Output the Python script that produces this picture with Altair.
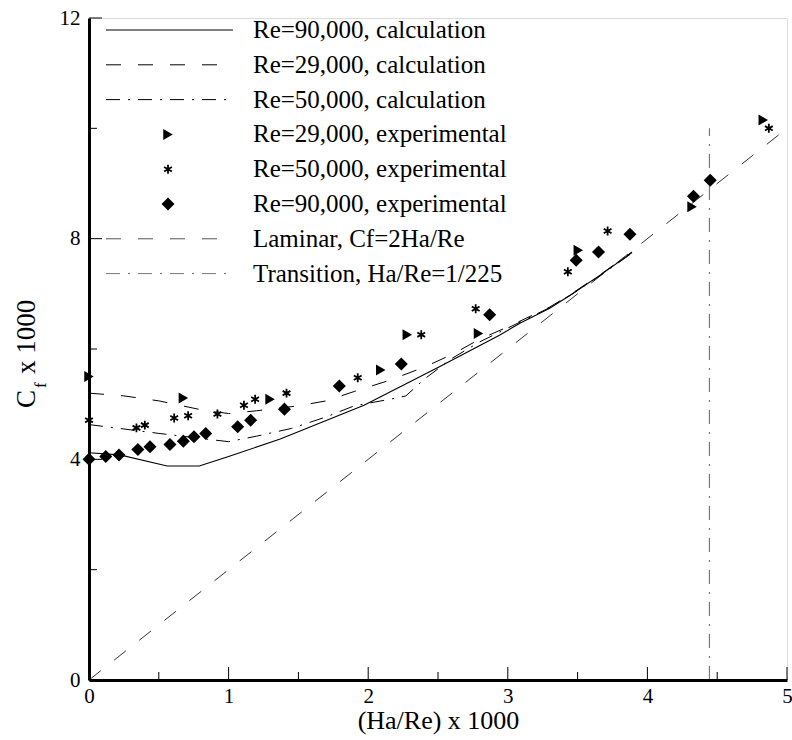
import altair as alt
import pandas as pd

FONT = "Liberation Serif"
W, H = 698, 662

# ---------------- data ----------------
calc90_x = [0.0, 0.22, 0.56, 0.79, 1.0, 1.37, 1.97, 2.51, 2.94, 3.09, 3.30, 3.45, 3.68, 3.89]
calc90_y = [4.12, 4.08, 3.88, 3.88, 4.05, 4.37, 4.98, 5.68, 6.25, 6.47, 6.74, 6.98, 7.37, 7.75]

calc29_x = [0.0, 0.25, 0.5, 0.8, 1.0, 1.2, 1.5, 1.7, 1.9, 2.15, 2.4, 2.6, 2.8, 3.0, 3.3, 3.45, 3.68, 3.89]
calc29_y = [5.20, 5.15, 5.06, 4.90, 4.83, 4.88, 4.97, 5.06, 5.23, 5.43, 5.67, 5.90, 6.18, 6.40, 6.76, 6.99, 7.38, 7.76]

calc50_x = [0.0, 0.5, 0.8, 1.0, 1.2, 1.45, 1.7, 1.9, 2.2, 2.27, 2.4, 2.6, 2.8, 3.0, 3.3, 3.45, 3.68, 3.89]
calc50_y = [4.63, 4.47, 4.38, 4.32, 4.42, 4.56, 4.77, 4.97, 5.11, 5.15, 5.45, 5.83, 6.13, 6.38, 6.75, 6.98, 7.36, 7.74]

exp29_x = [0.0, 0.676, 1.297, 2.09, 2.28, 2.79, 3.505, 4.32, 4.83]
exp29_y = [5.50, 5.11, 5.09, 5.62, 6.26, 6.28, 7.79, 8.58, 10.15]

exp50_x = [0.0, 0.34, 0.40, 0.61, 0.71, 0.92, 1.11, 1.19, 1.415, 1.925, 2.38, 2.77, 3.43, 3.715, 4.87]
exp50_y = [4.71, 4.57, 4.62, 4.75, 4.79, 4.82, 4.98, 5.09, 5.20, 5.48, 6.26, 6.73, 7.40, 8.14, 10.0]

exp90_x = [0.0, 0.12, 0.215, 0.35, 0.437, 0.58, 0.676, 0.752, 0.836, 1.065, 1.158, 1.40, 1.793,
           2.237, 2.87, 3.49, 3.65, 3.875, 4.33, 4.45]
exp90_y = [4.00, 4.05, 4.08, 4.18, 4.23, 4.27, 4.33, 4.41, 4.47, 4.59, 4.71, 4.91, 5.33,
           5.73, 6.62, 7.61, 7.76, 8.08, 8.77, 9.06]

laminar_x = [0.0, 5.0]
laminar_y = [0.0, 10.0]

transition_x = [1000 / 225, 1000 / 225]
transition_y = [0.0, 10.0]

x_major = [0, 1, 2, 3, 4, 5]
x_minor = [0.5, 1.5, 2.5, 3.5, 4.5]
y_major = [0, 4, 8, 12]
y_minor = [2, 6, 10]

legend_labels = [
    "Re=90,000, calculation",
    "Re=29,000, calculation",
    "Re=50,000, calculation",
    "Re=29,000, experimental",
    "Re=50,000, experimental",
    "Re=90,000, experimental",
    "Laminar, Cf=2Ha/Re",
    "Transition, Ha/Re=1/225",
]

# ---------------- styles ----------------
DASH = [15, 17]
DASHDOT = [14, 8, 2, 8]
ASTERISK = "M0,-1L0,1M-0.87,-0.5L0.87,0.5M-0.87,0.5L0.87,-0.5"
DIAMOND_SIZE = 170
TRI_SIZE = 120
STAR_SIZE = 80

xscale = alt.Scale(domain=[0, 5], nice=False, zero=False)
yscale = alt.Scale(domain=[0, 12], nice=False, zero=False)

xaxis = alt.Axis(values=x_major, ticks=False, grid=False, domainWidth=3, domainColor="black",
                 labelFont=FONT, labelFontSize=21, labelColor="black", labelPadding=5,
                 labelFlush=False, format="d", title="(Ha/Re) x 1000", titleFont=FONT,
                 titleFontSize=26, titleFontWeight="normal", titleColor="black",
                 titlePadding=1, zindex=1)
yaxis = alt.Axis(values=y_major, ticks=False, grid=False, domainWidth=3, domainColor="black",
                 labelFont=FONT, labelFontSize=21, labelColor="black", labelPadding=9,
                 labelFlush=False, format="d", title="", zindex=1)


def df(xs, ys):
    return pd.DataFrame({"x": xs, "y": ys})


def enc(chart, order=False):
    kw = dict(x=alt.X("x:Q", scale=xscale, axis=xaxis), y=alt.Y("y:Q", scale=yscale, axis=yaxis))
    if order:
        kw["order"] = alt.Order("i:Q")
    return chart.encode(**kw)


def line_df(xs, ys):
    d = df(xs, ys)
    d["i"] = range(len(d))
    return d


layers = []

# curves
layers.append(enc(alt.Chart(line_df(laminar_x, laminar_y)).mark_line(
    color="#333333", strokeWidth=1, strokeDash=DASH), order=True))
layers.append(enc(alt.Chart(line_df(transition_x, transition_y)).mark_line(
    color="#777777", strokeWidth=1.2, strokeDash=DASHDOT), order=True))
layers.append(enc(alt.Chart(line_df(calc90_x, calc90_y)).mark_line(
    color="black", strokeWidth=1.1), order=True))
layers.append(enc(alt.Chart(line_df(calc29_x, calc29_y)).mark_line(
    color="black", strokeWidth=1, strokeDash=DASH), order=True))
layers.append(enc(alt.Chart(line_df(calc50_x, calc50_y)).mark_line(
    color="black", strokeWidth=1, strokeDash=DASHDOT), order=True))

# experimental points
layers.append(enc(alt.Chart(df(exp29_x, exp29_y)).mark_point(
    shape="triangle-right", filled=True, color="black", opacity=1, size=TRI_SIZE)))
layers.append(enc(alt.Chart(df(exp50_x, exp50_y)).mark_point(
    shape=ASTERISK, filled=False, color="black", opacity=1, strokeWidth=1.8, size=STAR_SIZE)))
layers.append(enc(alt.Chart(df(exp90_x, exp90_y)).mark_point(
    shape="diamond", filled=True, color="black", opacity=1, size=DIAMOND_SIZE)))

# inward ticks
layers.append(alt.Chart(pd.DataFrame({"x": x_major})).mark_rule(color="black", strokeWidth=1).encode(
    x=alt.X("x:Q", scale=xscale, axis=xaxis), y=alt.value(H), y2=alt.value(H - 13)))
layers.append(alt.Chart(pd.DataFrame({"x": x_minor})).mark_rule(color="black", strokeWidth=1).encode(
    x=alt.X("x:Q", scale=xscale, axis=xaxis), y=alt.value(H), y2=alt.value(H - 8)))
layers.append(alt.Chart(pd.DataFrame({"y": y_major})).mark_rule(color="black", strokeWidth=1).encode(
    y=alt.Y("y:Q", scale=yscale, axis=yaxis), x=alt.value(0), x2=alt.value(13)))
layers.append(alt.Chart(pd.DataFrame({"y": y_minor})).mark_rule(color="black", strokeWidth=1).encode(
    y=alt.Y("y:Q", scale=yscale, axis=yaxis), x=alt.value(0), x2=alt.value(8)))

# legend (layout in pixels)
one = pd.DataFrame({"a": [0]})
LX1, LX2, LM, LT = 17, 144, 79, 164
row_y = [12 + 34.8 * i for i in range(len(legend_labels))]
line_styles = {0: ("black", None), 1: ("black", DASH), 2: ("black", DASHDOT),
               6: ("#555555", DASH), 7: ("#777777", DASHDOT)}
for i, (lab, ry) in enumerate(zip(legend_labels, row_y)):
    layers.append(alt.Chart(one).mark_text(
        text=lab, font=FONT, fontSize=25, align="left", baseline="middle", color="black"
    ).encode(x=alt.value(LT), y=alt.value(ry)))
    if i in line_styles:
        col, dash = line_styles[i]
        kw = dict(color=col, strokeWidth=1)
        if dash is not None:
            kw["strokeDash"] = dash
        layers.append(alt.Chart(one).mark_rule(**kw).encode(
            x=alt.value(LX1), x2=alt.value(LX2), y=alt.value(ry)))
    elif i == 3:
        layers.append(alt.Chart(one).mark_point(shape="triangle-right", filled=True, color="black",
                                                opacity=1, size=TRI_SIZE).encode(
            x=alt.value(LM), y=alt.value(ry)))
    elif i == 4:
        layers.append(alt.Chart(one).mark_point(shape=ASTERISK, filled=False, color="black",
                                                opacity=1, strokeWidth=1.8, size=STAR_SIZE).encode(
            x=alt.value(LM), y=alt.value(ry)))
    elif i == 5:
        layers.append(alt.Chart(one).mark_point(shape="diamond", filled=True, color="black",
                                                opacity=1, size=DIAMOND_SIZE).encode(
            x=alt.value(LM), y=alt.value(ry)))

# y-axis title with subscript
layers.append(alt.Chart(one).mark_text(text="C", font=FONT, fontSize=27, angle=270, align="left",
                                       baseline="middle", color="black").encode(
    x=alt.value(-62), y=alt.value(390)))
layers.append(alt.Chart(one).mark_text(text="f", font=FONT, fontSize=17, angle=270, align="left",
                                       baseline="middle", color="black").encode(
    x=alt.value(-48), y=alt.value(370)))
layers.append(alt.Chart(one).mark_text(text="x 1000", font=FONT, fontSize=27, angle=270, align="left",
                                       baseline="middle", color="black").encode(
    x=alt.value(-62), y=alt.value(356)))

chart = alt.layer(*layers).properties(
    width=W, height=H,
    padding={"left": 89, "top": 18, "right": 5, "bottom": 60},
    autosize=alt.AutoSizeParams(type="none"),
).configure_view(stroke=None).configure(background="white")

chart.save("out.html", embed_options={"renderer": "svg", "actions": False})
